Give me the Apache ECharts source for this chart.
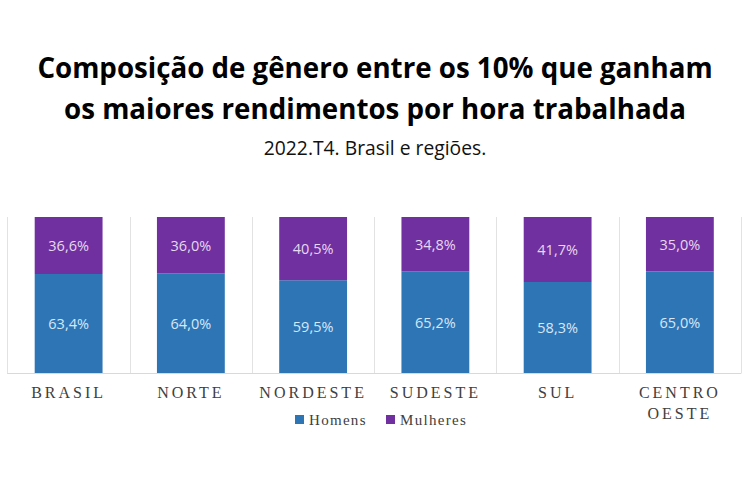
<!DOCTYPE html>
<html>
<head>
<meta charset="utf-8">
<style>
  html, body { margin: 0; padding: 0; background: #fff; }
  #chart { width: 750px; height: 500px; }
  /* axis and legend text is widely spaced in the original */
  #chart text[style*="Liberation Serif"] { letter-spacing: 1.3px; }
  #chart text[style*="16px"] { letter-spacing: 3px; }
</style>
<script src="https://cdn.jsdelivr.net/npm/echarts@6/dist/echarts.min.js"></script>
</head>
<body>
<div id="chart"></div>
<script>
const categories = ['BRASIL', 'NORTE', 'NORDESTE', 'SUDESTE', 'SUL', 'CENTRO\nOESTE'];
const homens = [63.4, 64.0, 59.5, 65.2, 58.3, 65.0];
const mulheres = [36.6, 36.0, 40.5, 34.8, 41.7, 35.0];

const fmt = p => p.value.toFixed(1).replace('.', ',') + '%';

const myChart = echarts.init(document.getElementById('chart'), null, { renderer: 'svg' });

myChart.setOption({
  animation: false,
  backgroundColor: '#fff',
  title: [
    {
      text: 'Composição de gênero entre os 10% que ganham\nos maiores rendimentos por hora trabalhada',
      left: 370,
      top: 41,
      textAlign: 'center',
      textStyle: { fontFamily: 'Open Sans', fontWeight: 'bold', fontSize: 27.7, lineHeight: 41, color: '#000', align: 'center' }
    },
    {
      text: '2022.T4. Brasil e regiões.',
      left: 370,
      top: 133,
      textAlign: 'center',
      textStyle: { fontFamily: 'Open Sans', fontWeight: 'normal', fontSize: 19.3, color: '#111' }
    }
  ],
  legend: {
    left: 295,
    top: 412,
    padding: 0,
    itemWidth: 9,
    itemHeight: 9,
    itemGap: 27,
    icon: 'rect',
    textStyle: { fontFamily: 'Liberation Serif', fontSize: 15, color: '#404040' },
    data: ['Homens', 'Mulheres']
  },
  grid: { left: 7.5, right: 9, top: 217, bottom: 127 },
  xAxis: {
    type: 'category',
    data: categories,
    axisTick: { show: false },
    axisLine: { lineStyle: { color: '#d9d9d9', width: 1 } },
    splitLine: { show: true, lineStyle: { color: '#e2e2e2', width: 1 } },
    axisLabel: { interval: 0, margin: 9, fontFamily: 'Liberation Serif', fontSize: 16, lineHeight: 21, color: '#404040' }
  },
  yAxis: { type: 'value', min: 0, max: 100, show: false },
  series: [
    {
      name: 'Homens',
      type: 'bar',
      stack: 'total',
      barWidth: '55.5%',
      data: homens,
      itemStyle: { color: '#2e75b6' },
      label: { show: true, position: 'inside', formatter: fmt, fontFamily: 'Open Sans', fontSize: 14.5, color: '#d5e8f8' }
    },
    {
      name: 'Mulheres',
      type: 'bar',
      stack: 'total',
      data: mulheres,
      itemStyle: { color: '#7030a0' },
      label: { show: true, position: 'inside', formatter: fmt, fontFamily: 'Open Sans', fontSize: 14.5, color: '#e6d8f0' }
    }
  ]
});
</script>
</body>
</html>
